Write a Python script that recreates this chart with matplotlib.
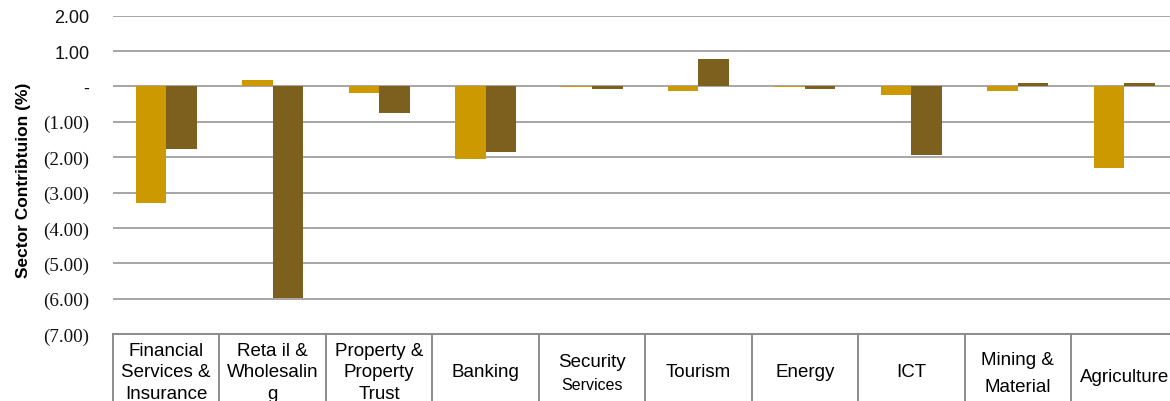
import matplotlib
matplotlib.use("Agg")
import matplotlib.pyplot as plt
import numpy as np

# Sector contributions (%) for the two periods
sectors = ["Financial\nServices &\nInsurance", "Reta il &\nWholesalin\ng",
           "Property &\nProperty\nTrust", "Banking", "Security\nServices",
           "Tourism", "Energy", "ICT", "Mining &\nMaterial", "Agriculture"]
series_a = [-3.29, 0.17, -0.18, -2.05, -0.02, -0.13, -0.02, -0.23, -0.13, -2.31]
series_b = [-1.77, -5.99, -0.74, -1.85, -0.06, 0.78, -0.07, -1.94, 0.11, 0.09]
y_ticks = [2, 1, 0, -1, -2, -3, -4, -5, -6, -7]
y_labels = ["2.00", "1.00", "-", "(1.00)", "(2.00)", "(3.00)", "(4.00)",
            "(5.00)", "(6.00)", "(7.00)"]

_GOLD   = "#CC9900"
_BRONZE = "#7D601E"
_GRID   = "#A6A6A6"
_BOX    = "#8C8C8C"

fig = plt.figure(figsize=(11.7, 4.02), dpi=100)
fig.set_facecolor("white")
ax = fig.add_axes([113 / 1170, 67 / 402, 1064.5 / 1170, 318.3 / 402])

x = np.arange(len(sectors))
w = 0.287
ax.bar(x - w / 2, series_a, width=w, color=_GOLD, zorder=3)
ax.bar(x + w / 2, series_b, width=w, color=_BRONZE, zorder=3)

ax.set_xlim(-0.5, len(sectors) - 0.5)
ax.set_ylim(-7, 2)
ax.set_xticks([])
ax.set_yticks(y_ticks)
ax.set_yticklabels(y_labels)
ax.tick_params(axis="y", length=0, pad=17, labelsize=13)
for lbl, val in zip(ax.get_yticklabels(), y_ticks):
    if val < 0:
        # negatives are set in a serif face
        lbl.set_fontfamily("Liberation Serif")
        lbl.set_fontsize(13.8)
    else:
        lbl.set_fontfamily("Liberation Sans")
    lbl.set_color("#111111")

for s in ax.spines.values():
    s.set_visible(False)
for v in y_ticks[:-1]:
    ax.axhline(v, color=_GRID, linewidth=1.4, zorder=1)

# category box under the plot area
xt = ax.get_xaxis_transform()
ax.axhline(-7, color=_BOX, linewidth=1.4, zorder=1, clip_on=False)
for i in range(len(sectors) + 1):
    ax.plot([i - 0.5, i - 0.5], [0, -0.3], color=_BOX, linewidth=1.4,
            transform=xt, clip_on=False)

for i, name in enumerate(sectors):
    lines = name.split("\n")
    if name.startswith("Security"):
        ax.text(i, -0.085, lines[0], transform=xt, ha="center", va="center",
                fontsize=13.5, family="Liberation Sans")
        ax.text(i, -0.158, lines[1], transform=xt, ha="center", va="center",
                fontsize=11.5, family="Liberation Sans")
        continue
    if name.startswith("Mining"):
        ax.text(i, -0.122, name, transform=xt, ha="center", va="center",
                fontsize=13.5, family="Liberation Sans", linespacing=1.8)
        continue
    yc = -0.119
    if name == "Agriculture":
        yc = -0.132
    ax.text(i, yc, name, transform=xt, ha="center", va="center",
            fontsize=13.5, family="Liberation Sans", linespacing=1.36)

ax.set_ylabel("Sector Contribtuion (%)", fontsize=12.5, fontweight="bold",
              family="Liberation Sans")
ax.yaxis.set_label_coords(-0.077, 0.487)

fig.savefig("out.png", dpi=100, facecolor="white")
